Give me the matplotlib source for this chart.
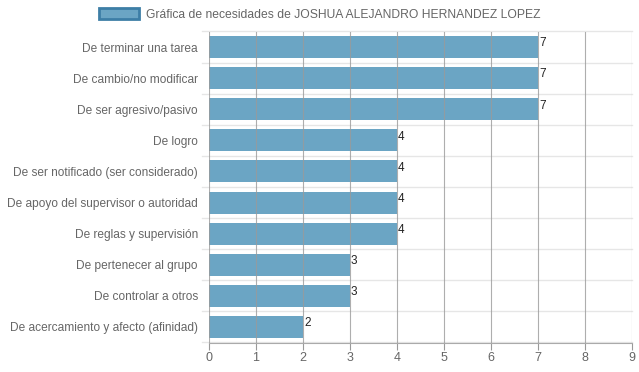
import matplotlib
matplotlib.use("Agg")
import matplotlib.pyplot as plt
import matplotlib.patches as mpatches
import numpy as np

plt.rcParams['font.family'] = ['Liberation Sans', 'DejaVu Sans']

categories = [
    "De terminar una tarea",
    "De cambio/no modificar",
    "De ser agresivo/pasivo",
    "De logro",
    "De ser notificado (ser considerado)",
    "De apoyo del supervisor o autoridad",
    "De reglas y supervisión",
    "De pertenecer al grupo",
    "De controlar a otros",
    "De acercamiento y afecto (afinidad)",
]
values = [7, 7, 7, 4, 4, 4, 4, 3, 3, 2]
series_name = "Gráfica de necesidades de JOSHUA ALEJANDRO HERNANDEZ LOPEZ"

bar_color = "#6ba5c4"
edge_color = "#3d7ea6"
text_color = "#666666"

fig = plt.figure(figsize=(6.39, 3.72), dpi=100)
ax = fig.add_axes([209 / 639, 1 - 342.5 / 372, (632 - 209) / 639, (342.5 - 31.5) / 372])

y = np.arange(len(categories))
ax.barh(y, values, height=0.71, color=bar_color, zorder=2)

# value labels
for yi, v in zip(y, values):
    ax.text(v + 0.02, yi - 0.12, str(v), fontsize=8.5, color="#222222",
            ha="left", va="center", zorder=4)

ax.set_xlim(0, 9)
ax.set_ylim(len(categories) - 0.5, -0.5)
ax.set_xticks(range(10))
ax.set_yticks(y)
ax.set_yticklabels(categories, fontsize=8.6, color=text_color)
ax.tick_params(axis='x', colors="#999999", labelcolor=text_color, labelsize=9,
               length=5, pad=2)
ax.tick_params(axis='y', length=0, pad=8)

# vertical grid drawn over bars
for xv in range(10):
    ax.axvline(xv, color="#9a9a9a", lw=0.8, alpha=0.8, zorder=3)

# horizontal separators between categories
for b in np.arange(-0.5, len(categories), 1.0):
    ax.plot([-0.15, 9], [b, b], color="#e6e6e6", lw=1, zorder=1, clip_on=False)

for s in ["top", "right", "left"]:
    ax.spines[s].set_visible(False)
ax.spines["bottom"].set_color("#aaaaaa")

handle = mpatches.Patch(facecolor=bar_color, edgecolor=edge_color, linewidth=2)
fig.legend([handle], [series_name], loc="center", bbox_to_anchor=(0.5, 1 - 14.5 / 372),
           frameon=False, fontsize=8.7, labelcolor=text_color, handlelength=3.3,
           handleheight=1.0, handletextpad=0.55)

fig.savefig("out.png", dpi=100)
